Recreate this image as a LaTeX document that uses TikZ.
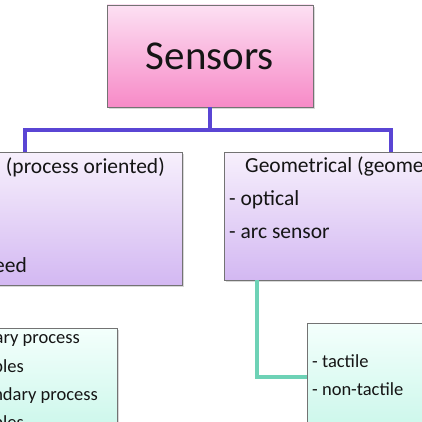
\documentclass[tikz,border=0pt]{standalone}
\usepackage{fontspec}
\setmainfont{Carlito}
\usetikzlibrary{shadows}
\definecolor{pinkT}{HTML}{FCE0F3}
\definecolor{pinkB}{HTML}{F78AC7}
\definecolor{lavT}{HTML}{F7F0FC}
\definecolor{lavB}{HTML}{D3B8F2}
\definecolor{mintT}{HTML}{F4FFFC}
\definecolor{mintB}{HTML}{BCF4E4}
\definecolor{connblue}{HTML}{5A45D4}
\definecolor{conngreen}{HTML}{6ED2B6}
\definecolor{ink}{HTML}{151515}
\begin{document}
\begin{tikzpicture}[x=1pt,y=-1pt,
  box/.style={draw=black!55, line width=0.6pt, inner sep=0pt,
    drop shadow={shadow xshift=1.5pt,shadow yshift=-2pt,opacity=0.3}},
  pinkbox/.style={box, top color=pinkT, bottom color=pinkB},
  lavbox/.style={box, top color=lavT, bottom color=lavB},
  mintbox/.style={box, top color=mintT, bottom color=mintB},
  big/.style={font=\fontsize{41}{46}\selectfont, text=ink},
  txt/.style={font=\fontsize{21.5}{26}\selectfont, text=ink, inner sep=0pt},
  stxt/.style={font=\fontsize{18.5}{22}\selectfont, text=ink, inner sep=0pt},
  blueconn/.style={draw=connblue, line width=3.4pt},
  greenconn/.style={draw=conngreen, line width=3.4pt},
]
\useasboundingbox (0,0) rectangle (422,422);
\fill[white] (0,0) rectangle (422,422);

% boxes
\node[pinkbox, big, minimum width=206pt, minimum height=102pt] (sens) at (210,56) {Sensors};
\node[lavbox, minimum width=242pt, minimum height=133pt] (lt) at (61,218.5) {};
\node[lavbox, minimum width=246pt, minimum height=128pt] (rt) at (347,216) {};
\node[mintbox, minimum width=177pt, minimum height=142pt] (lb) at (28.5,399) {};
\node[mintbox, minimum width=173pt, minimum height=147pt] (rb) at (393.5,396.5) {};

% connector ends
\coordinate (ltin) at (25,152);
\coordinate (rtin) at (391,152);
\coordinate (rtout) at (257,280);

\draw[blueconn] (sens.south) -- (sens.south |- 0,130) -| (ltin);
\draw[blueconn] (sens.south |- 0,130) -| (rtin);
\draw[greenconn] (rtout) |- (rb.west |- 0,377);

% texts, left top box
\node[txt, anchor=base east] (t1) at (165,173) {(process oriented)};
\node[txt, anchor=base east] (t2) at (27,272) {eed};
% right top box
\node[txt, anchor=base west] (t3) at (245,172) {Geometrical (geome};
\node[txt, anchor=base west] (t4) at (229,205) {- optical};
\node[txt, anchor=base west] (t5) at (229,238) {- arc sensor};
% left bottom box
\node[stxt, anchor=base east] (t6) at (80,343) {ary process};
\node[stxt, anchor=base east] (t7) at (24,372) {bles};
\node[stxt, anchor=base east] (t8) at (98,400) {ndary process};
\node[stxt, anchor=base east] (t9) at (24,428) {bles};
% right bottom box
\node[stxt, anchor=base west] (t10) at (312,367) {- tactile};
\node[stxt, anchor=base west] (t11) at (312,395) {- non-tactile};
\end{tikzpicture}
\end{document}
